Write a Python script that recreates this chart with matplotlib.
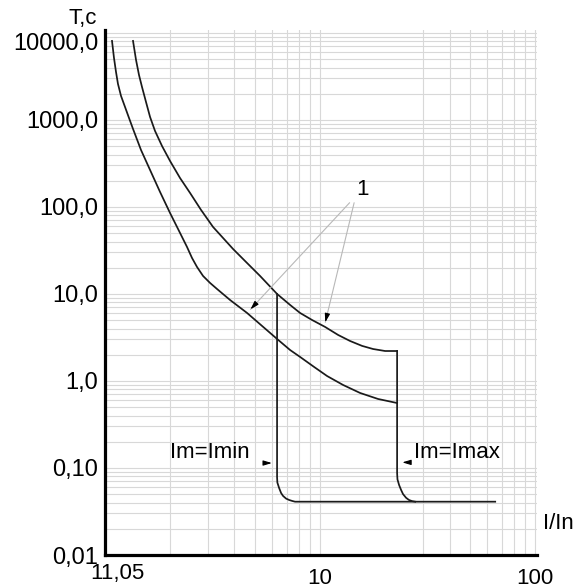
import numpy as np
import matplotlib
matplotlib.use("Agg")
import matplotlib.pyplot as plt
from matplotlib.ticker import FixedLocator, NullFormatter

plt.rcParams['font.family'] = ['Liberation Sans', 'DejaVu Sans']

# upper time-current curve (I/In, T s)
up_x = [1.350, 1.394, 1.439, 1.486, 1.551, 1.620, 1.708, 1.841, 2.006, 2.233,
        2.485, 2.796, 3.179, 3.539, 3.938, 4.527, 5.260, 6.310, 7.253, 8.072,
        9.180, 10.55, 12.13, 13.79, 15.68, 17.64, 20.06, 22.81]
up_y = [8091, 4896, 3289, 2394, 1610, 1082, 748, 502, 338, 215,
        145, 92.4, 58.9, 44.0, 32.9, 23.3, 16.1, 10.0, 7.48, 6.05,
        5.02, 4.18, 3.38, 2.88, 2.53, 2.33, 2.21, 2.21]

# lower curve
lo_x = [1.078, 1.101, 1.125, 1.149, 1.187, 1.239, 1.293, 1.350, 1.470, 1.620,
        1.802, 2.006, 2.209, 2.406, 2.539, 2.679, 2.857, 3.078, 3.319, 3.814,
        4.576, 5.373, 6.310, 7.253, 8.072, 9.378, 10.78, 12.79, 15.35, 18.61, 22.81]
lo_y = [8091, 5164, 3564, 2594, 1888, 1410, 1054, 788, 452, 266,
        149, 85.3, 53.0, 34.7, 25.9, 20.4, 16.1, 13.4, 11.4, 8.53,
        6.05, 4.29, 3.04, 2.27, 1.89, 1.45, 1.14, 0.900, 0.728, 0.621, 0.558]

# instantaneous release, Im = Imin
imin_x = [6.31, 6.31, 6.33, 6.45, 6.59, 6.73, 6.95, 7.18, 7.42, 7.65, 65.2]
imin_y = [10.0, 0.0788, 0.0680, 0.0589, 0.0515, 0.0477, 0.0445, 0.0429, 0.0418, 0.041, 0.041]

# instantaneous release, Im = Imax
imax_x = [22.81, 22.81, 22.9, 23.3, 23.8, 24.3, 25.1, 25.9, 26.8, 27.7]
imax_y = [2.21, 0.0876, 0.0740, 0.0638, 0.0560, 0.0502, 0.0455, 0.0429, 0.0416, 0.041]

y_ticks = [0.01, 0.1, 1, 10, 100, 1000, 10000]
y_labels = ['0,01', '0,10', '1,0', '10,0', '100,0', '1000,0', '10000,0']
x_ticks = [10, 100]
x_labels = ['10', '100']
x_minor = [2, 3, 4, 5, 6, 7, 8, 9, 30, 40, 50, 60, 70, 80, 90]


def main():
    fig = plt.figure(figsize=(5.82, 5.87), dpi=100)
    ax = fig.add_axes([0.1804, 0.0545, 0.7423, 0.8944])
    ax.set_xscale('log')
    ax.set_yscale('log')
    ax.set_xlim(1, 102)
    ax.set_ylim(0.01, 10800)

    # grid ---------------------------------------------
    ax.xaxis.set_major_locator(FixedLocator(x_ticks))
    ax.xaxis.set_minor_locator(FixedLocator(x_minor))
    ax.xaxis.set_minor_formatter(NullFormatter())
    ax.set_xticklabels(x_labels)
    ax.set_yticks(y_ticks)
    ax.set_yticklabels(y_labels)
    ax.yaxis.set_minor_formatter(NullFormatter())
    ax.grid(True, which='both', color='#d8d8d8', lw=0.8)
    ax.set_axisbelow(True)
    ax.tick_params(which='both', length=0)
    ax.tick_params(axis='y', labelsize=17, pad=5)
    ax.tick_params(axis='x', labelsize=16, pad=9)
    ax.get_yticklabels()[-1].set_va('top')

    for s in ['top', 'right']:
        ax.spines[s].set_visible(False)
    for s in ['left', 'bottom']:
        ax.spines[s].set_linewidth(2.3)

    # curves ---------------------------------------------
    kw = dict(color='#1a1a1a', lw=1.25, solid_joinstyle='round')
    ax.plot(up_x, up_y, **kw)
    ax.plot(lo_x, lo_y, **kw)
    ax.plot(imin_x, imin_y, **kw)
    ax.plot(imax_x, imax_y, **kw)

    # annotations ----------------------------------------
    ax.text(15.8, 157, '1', fontsize=16, ha='center', va='center')
    ax.annotate('', xy=(10.5, 4.4), xytext=(14.5, 120),
                arrowprops=dict(arrowstyle='-', color='#b8b8b8', lw=0.8))
    ax.annotate('', xy=(4.65, 6.3), xytext=(14.0, 118),
                arrowprops=dict(arrowstyle='-', color='#b8b8b8', lw=0.8))
    head = dict(arrowstyle='-|>,head_length=0.5,head_width=0.15', color='black', lw=0.8)
    ax.annotate('', xy=(10.5, 4.4), xytext=(1.7, 7.0), textcoords='offset points',
                arrowprops=head)
    ax.annotate('', xy=(4.65, 6.3), xytext=(4.9, 5.3), textcoords='offset points',
                arrowprops=head)

    ax.text(3.08, 0.149, 'Im=Imin', fontsize=16, ha='center', va='center')
    ax.text(43.4, 0.149, 'Im=Imax', fontsize=16, ha='center', va='center')
    ax.annotate('', xy=(6.15, 0.114), xytext=(-9, 0), textcoords='offset points',
                arrowprops=head)
    ax.annotate('', xy=(23.4, 0.116), xytext=(9, 0), textcoords='offset points',
                arrowprops=head)

    ax.annotate('11,05', xy=(1, 0), xycoords=('data', 'axes fraction'),
                xytext=(9, -13.5), textcoords='offset points',
                ha='center', va='center', fontsize=16)
    fig.text(0.1426, 0.968, 'T,c', fontsize=16, ha='center', va='center')
    fig.text(0.9588, 0.109, 'I/In', fontsize=16, ha='center', va='center')

    fig.savefig('out.png', dpi=100)


if __name__ == "__main__":
    main()
